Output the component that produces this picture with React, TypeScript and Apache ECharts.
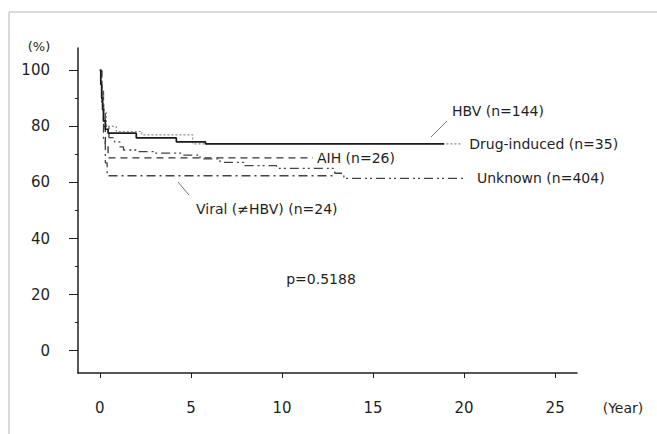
import React, { useEffect, useRef } from "react";
import * as echarts from "echarts";

// survival (%) against years
const hbvYears = [0, 0.05, 0.1, 0.15, 0.2, 0.3, 0.45, 2.0, 4.2, 5.8, 18.9];
const hbvSurv = [100, 95, 90, 86, 82, 79, 77.6, 75.9, 74.5, 73.8, 73.8];

const drugYears = [0, 0.1, 0.2, 0.35, 0.9, 2.3, 5.1, 19.9];
const drugSurv = [100, 92, 85, 80, 78.2, 77, 73.8, 73.8];

const aihYears = [0, 0.1, 0.2, 0.3, 0.45, 11.7];
const aihSurv = [100, 88, 80, 73, 68.8, 68.8];

const unknownYears = [0, 0.1, 0.2, 0.3, 0.5, 0.8, 1.1, 1.3, 2.1, 3.0, 4.6, 5.5, 6.6, 7.9, 9.7, 12.9, 13.4, 20.1];
const unknownSurv = [100, 93, 86, 80, 76, 74.5, 72.7, 71.6, 71.0, 70.5, 69.8, 68.4, 67.2, 66, 65, 63.3, 61.5, 61.5];

const viralYears = [0, 0.1, 0.2, 0.3, 0.4, 12.9];
const viralSurv = [100, 88, 75, 67, 62.4, 62.4];

const xTicks = [0, 5, 10, 15, 20, 25];
const yTicks = [0, 20, 40, 60, 80, 100];
const yMinorTicks = [10, 30, 50, 70, 90];

const FONT = "DejaVu Sans";
const INK = "#1f1f1f";

const zip = (xs: number[], ys: number[]) => xs.map((x, i) => [x, ys[i]]);

export default function App() {
  const chartRef = useRef<HTMLDivElement>(null);

  useEffect(() => {
    if (!chartRef.current) return;
    const chart = echarts.init(chartRef.current, null, { renderer: "svg" });

    const endLabel = (name: string, distance: number) => ({
      show: true,
      formatter: name,
      distance,
      color: INK,
      fontSize: 14,
      fontFamily: FONT,
    });

    const option: echarts.EChartsOption = {
      animation: false,
      backgroundColor: "#fff",
      grid: { left: 78, right: 80, top: 48, bottom: 61 },
      xAxis: {
        type: "value",
        min: -1.2,
        max: 26.2,
        axisLine: { onZero: false, lineStyle: { color: INK, width: 1.5 } },
        axisTick: { customValues: xTicks, length: 5, lineStyle: { color: INK } },
        axisLabel: { customValues: xTicks, margin: 27, color: INK, fontSize: 15, fontFamily: FONT },
        splitLine: { show: false },
      },
      yAxis: [
        {
          type: "value",
          min: -8,
          max: 108,
          axisLine: { show: true, onZero: false, lineStyle: { color: INK, width: 1.5 } },
          axisTick: { show: true, customValues: yTicks, length: 9, lineStyle: { color: INK } },
          axisLabel: { customValues: yTicks, margin: 28, color: INK, fontSize: 15, fontFamily: FONT },
          splitLine: { show: false },
        },
        {
          type: "value",
          min: -8,
          max: 108,
          position: "left",
          axisLine: { show: false, onZero: false },
          axisTick: { show: true, customValues: yMinorTicks, length: 3, lineStyle: { color: INK } },
          axisLabel: { show: false },
          splitLine: { show: false },
        },
      ],
      series: [
        {
          name: "HBV (n=144)",
          type: "line",
          step: "end",
          showSymbol: false,
          data: zip(hbvYears, hbvSurv),
          lineStyle: { color: "#1a1a1a", width: 1.7 },
          z: 5,
        },
        {
          name: "Drug-induced (n=35)",
          type: "line",
          step: "end",
          showSymbol: false,
          data: zip(drugYears, drugSurv),
          lineStyle: { color: "#8a8a8a", width: 1.2, type: [2, 2] },
          endLabel: endLabel("Drug-induced (n=35)", 7),
          z: 4,
        },
        {
          name: "AIH (n=26)",
          type: "line",
          step: "end",
          showSymbol: false,
          data: zip(aihYears, aihSurv),
          lineStyle: { color: "#333", width: 1.3, type: [7, 5] },
          endLabel: endLabel("AIH (n=26)", 4),
        },
        {
          name: "Unknown (n=404)",
          type: "line",
          step: "end",
          showSymbol: false,
          data: zip(unknownYears, unknownSurv),
          lineStyle: { color: "#444", width: 1.3, type: [9, 4, 2, 3, 2, 4] },
          endLabel: endLabel("Unknown (n=404)", 11),
        },
        {
          name: "Viral (≠HBV) (n=24)",
          type: "line",
          step: "end",
          showSymbol: false,
          data: zip(viralYears, viralSurv),
          lineStyle: { color: "#444", width: 1.3, type: [9, 4, 2, 4] },
        },
      ],
      graphic: [
        // page frame
        { type: "line", shape: { x1: 9, y1: 12, x2: 657, y2: 12 }, style: { stroke: "#b5b5b5", lineWidth: 1 } },
        { type: "line", shape: { x1: 9, y1: 12, x2: 9, y2: 434 }, style: { stroke: "#b5b5b5", lineWidth: 1 } },
        {
          type: "text",
          x: 39,
          y: 46,
          style: { text: "(%)", fill: INK, font: `13px "${FONT}"`, textAlign: "center", textVerticalAlign: "middle" },
        },
        {
          type: "text",
          x: 623,
          y: 408,
          style: { text: "(Year)", fill: INK, font: `14px "${FONT}"`, textAlign: "center", textVerticalAlign: "middle" },
        },
        {
          type: "text",
          x: 321,
          y: 279,
          style: { text: "p=0.5188", fill: INK, font: `14px "${FONT}"`, textAlign: "center", textVerticalAlign: "middle" },
        },
        {
          type: "text",
          x: 452,
          y: 111,
          style: { text: "HBV (n=144)", fill: INK, font: `14px "${FONT}"`, textAlign: "left", textVerticalAlign: "middle" },
        },
        { type: "line", shape: { x1: 431, y1: 137, x2: 447, y2: 121 }, style: { stroke: "#777", lineWidth: 1 } },
        {
          type: "text",
          x: 196,
          y: 209,
          style: {
            text: "Viral (≠HBV) (n=24)",
            fill: INK,
            font: `14px "${FONT}"`,
            textAlign: "left",
            textVerticalAlign: "middle",
          },
        },
        { type: "line", shape: { x1: 178, y1: 182, x2: 189, y2: 195 }, style: { stroke: "#777", lineWidth: 1 } },
      ],
    };

    chart.setOption(option);
    return () => chart.dispose();
  }, []);

  return (
    <div
      ref={chartRef}
      style={{ position: "fixed", left: 0, top: 0, width: 657, height: 434, background: "#fff" }}
    />
  );
}
